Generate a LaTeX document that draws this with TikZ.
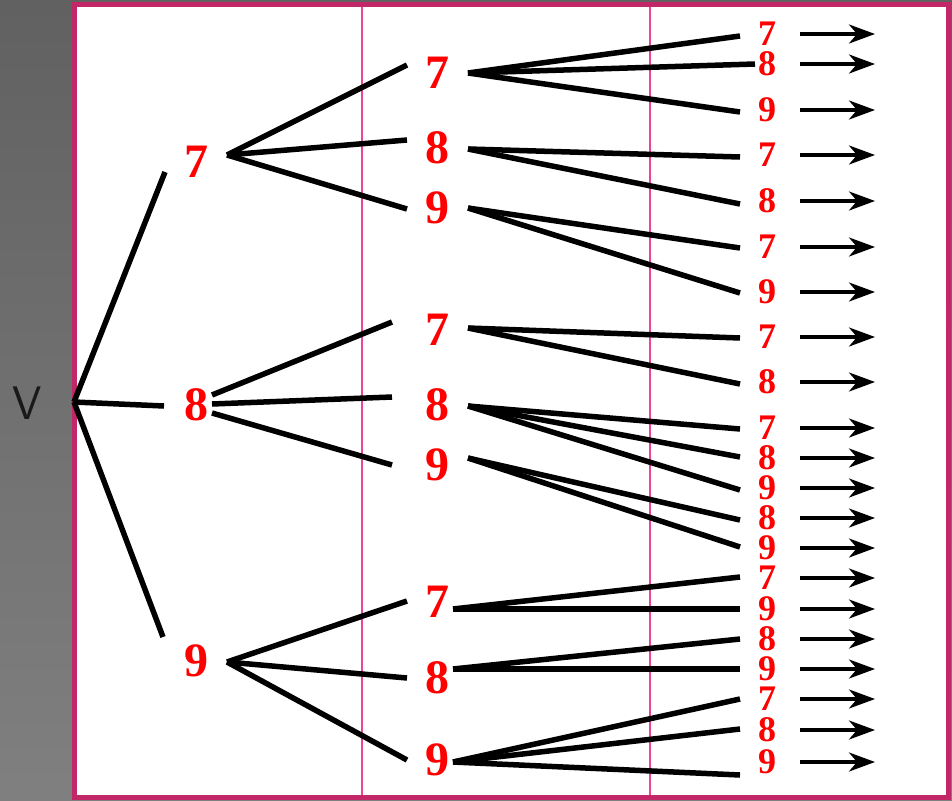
\documentclass[tikz,border=0pt]{standalone}
\usepackage{fontspec}
\setmainfont{Liberation Serif}
\usetikzlibrary{arrows.meta}
\definecolor{slideframe}{RGB}{194,40,104}
\definecolor{guidepink}{RGB}{238,68,150}
\begin{document}
\begin{tikzpicture}[x=1pt, y=-1pt,
    branch/.style={line width=5.5pt, black},
    digit/.style={text=red, font=\bfseries\fontsize{48}{48}\selectfont, inner sep=0pt},
    leaf/.style={text=red, font=\bfseries\fontsize{36}{36}\selectfont, inner sep=0pt},
    go/.style={line width=3.2pt, -{Stealth[length=26pt, width=19pt, inset=8pt]}}]
    \useasboundingbox (0,0) rectangle (952,800);
    \shade[top color=black!62, bottom color=black!50] (0,0) rectangle (952,800);
    \draw[slideframe, line width=4.5pt, fill=white] (74.5,4.5) rectangle (948.5,797.5);
    \draw[guidepink, line width=1.5pt] (362,6.75) -- (362,795.25);
    \draw[guidepink, line width=1.5pt] (650,6.75) -- (650,795.25);

    \node[font=\sffamily\fontsize{47}{47}\selectfont, text=black!90] (v) at (27,403) {V};

    \coordinate (root) at (74,402);
    \coordinate (r7) at (165,172);
    \coordinate (r8) at (164,406);
    \coordinate (r9) at (163,637);

    \node[digit] (n7) at (196,162) {7};
    \node[digit] (n8) at (196,405) {8};
    \node[digit] (n9) at (196,661) {9};

    \draw[branch] (root) -- (r7);
    \draw[branch] (root) -- (r8);
    \draw[branch] (root) -- (r9);

    \coordinate (out7) at (227,155);
    \coordinate (out8a) at (212,395);
    \coordinate (out8b) at (212,404);
    \coordinate (out8c) at (212,413);
    \coordinate (out9) at (227,662);

    \coordinate (in77) at (407,65);
    \coordinate (in78) at (407,140);
    \coordinate (in79) at (407,209);
    \coordinate (in87) at (392,322);
    \coordinate (in88) at (392,397);
    \coordinate (in89) at (392,465);
    \coordinate (in97) at (407,601);
    \coordinate (in98) at (407,678);
    \coordinate (in99) at (407,760);

    \node[digit] (n77) at (437,73) {7};
    \node[digit] (n78) at (437,148) {8};
    \node[digit] (n79) at (437,208) {9};
    \node[digit] (n87) at (437,330) {7};
    \node[digit] (n88) at (437,405) {8};
    \node[digit] (n89) at (437,465) {9};
    \node[digit] (n97) at (437,602) {7};
    \node[digit] (n98) at (437,678) {8};
    \node[digit] (n99) at (437,760) {9};

    \draw[branch] (out7) -- (in77);
    \draw[branch] (out7) -- (in78);
    \draw[branch] (out7) -- (in79);
    \draw[branch] (out8a) -- (in87);
    \draw[branch] (out8b) -- (in88);
    \draw[branch] (out8c) -- (in89);
    \draw[branch] (out9) -- (in97);
    \draw[branch] (out9) -- (in98);
    \draw[branch] (out9) -- (in99);

    \coordinate (out77) at (468,73);
    \coordinate (out78) at (468,149);
    \coordinate (out79) at (468,208);
    \coordinate (out87) at (468,328);
    \coordinate (out88) at (468,406);
    \coordinate (out89) at (468,458);
    \coordinate (out97) at (453,609);
    \coordinate (out98) at (453,669);
    \coordinate (out99) at (453,762);

    \foreach \n/\d/\ly/\ex/\ey in {1/7/34/740/36, 2/8/64/755/64, 3/9/110/740/112,
        4/7/155/740/157, 5/8/201/740/204, 6/7/247/740/248, 7/9/292/740/293,
        8/7/337/740/338, 9/8/382/740/384, 10/7/428/740/429, 11/8/458/740/457,
        12/9/488/740/490, 13/8/518/740/520, 14/9/548/740/547, 15/7/578/740/577,
        16/9/609/740/609, 17/8/639/740/639, 18/9/669/740/669, 19/7/699/740/699,
        20/8/730/740/729, 21/9/762/740/775} {
        \node[leaf] (leaf\n) at (767,\ly) {\d};
        \coordinate (end\n) at (\ex,\ey);
        \coordinate (from\n) at (800,\ly);
        \coordinate (to\n) at (875,\ly);
        \draw[go] (from\n) -- (to\n);
    }

    \foreach \o/\n in {out77/1, out77/2, out77/3, out78/4, out78/5, out79/6, out79/7,
        out87/8, out87/9, out88/10, out88/11, out88/12, out89/13, out89/14,
        out97/15, out97/16, out98/17, out98/18, out99/19, out99/20, out99/21}
        \draw[branch] (\o) -- (end\n);
\end{tikzpicture}
\end{document}
